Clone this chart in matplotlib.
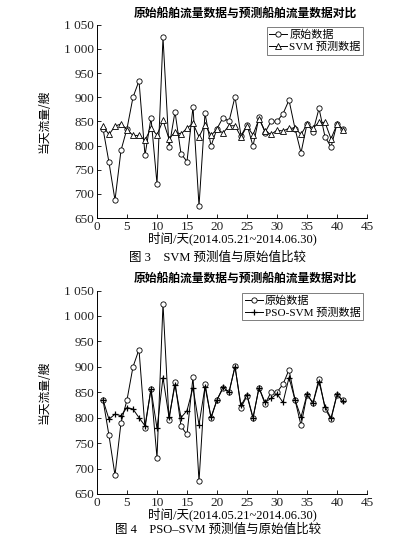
import matplotlib
matplotlib.use('Agg')
from matplotlib import pyplot as plt

# 41일 데이터 (2014.05.21 ~ 2014.06.30)
days = list(range(1, 42))
original = [835, 765, 687, 790, 835, 900, 934, 780, 857, 721, 1024, 796, 870, 783, 767, 880, 675,
            867, 799, 835, 858, 850, 901, 820, 843, 799, 859, 827, 850, 850, 866, 894, 835, 785,
            845, 829, 877, 818, 797, 845, 834]
svm_pred = [840, 823, 840, 845, 833, 821, 821, 811, 836, 822, 852, 814, 828, 824, 836, 846, 818,
            843, 821, 834, 826, 841, 841, 818, 840, 822, 855, 830, 823, 832, 830, 836, 836, 823,
            844, 836, 848, 848, 814, 844, 832]
pso_pred = [835, 797, 807, 804, 820, 817, 800, 784, 856, 779, 879, 801, 864, 800, 814, 859, 786,
            861, 801, 835, 860, 850, 900, 824, 845, 800, 859, 830, 838, 847, 830, 879, 835, 801,
            846, 829, 871, 822, 799, 846, 832]

x_ticks = [0, 5, 10, 15, 20, 25, 30, 35, 40, 45]
y_ticks = [650, 700, 750, 800, 850, 900, 950, 1000, 1050]
y_tick_labels = ['650', '700', '750', '800', '850', '900', '950', '1 000', '1 050']

title_text = '原始船舶流量数据与预测船舶流量数据对比'
xlabel_text = '时间/天(2014.05.21~2014.06.30)'
ylabel_text = '当天流量/艘'

serif_cjk = ['Liberation Serif', 'Noto Sans CJK SC']
cjk = ['Noto Sans CJK SC', 'DejaVu Sans']

fig = plt.figure(figsize=(4.11, 5.39), dpi=100)


def draw_panel(rect, pred, pred_marker, pred_label, caption, caption_y):
    ax = fig.add_axes(rect)
    ax.plot(days, original, color='black', linewidth=0.7, marker='o', markersize=3.8,
            markerfacecolor='white', markeredgecolor='black', markeredgewidth=0.6, label='原始数据')
    if pred_marker == '^':
        ax.plot(days, pred, color='black', linewidth=0.7, marker='^', markersize=4.2,
                markerfacecolor='white', markeredgecolor='black', markeredgewidth=0.6, label=pred_label)
    else:
        ax.plot(days, pred, color='black', linewidth=0.7, marker='+', markersize=5,
                markeredgewidth=0.9, label=pred_label)

    ax.set_xlim(0, 45)
    ax.set_ylim(650, 1050)
    ax.set_xticks(x_ticks)
    ax.set_yticks(y_ticks)
    ax.set_yticklabels(y_tick_labels)
    for lab in ax.get_xticklabels() + ax.get_yticklabels():
        lab.set_family('Liberation Serif')
        lab.set_fontsize(9.5)
        lab.set_color('#222222')
    ax.tick_params(direction='in', length=3, width=0.6, pad=2)
    ax.spines['top'].set_visible(False)
    ax.spines['right'].set_visible(False)
    for s in ['left', 'bottom']:
        ax.spines[s].set_linewidth(0.7)

    ax.set_title(title_text, family=cjk, fontsize=8.5, fontweight='bold', x=0.55, pad=6)
    ax.set_xlabel(xlabel_text, family=serif_cjk, fontsize=9, labelpad=-1)
    ax.set_ylabel(ylabel_text, family=cjk, fontsize=8.5, labelpad=10)

    leg = ax.legend(loc='upper right', bbox_to_anchor=(0.995, 1.0), prop={'family': serif_cjk, 'size': 8},
                    frameon=True, fancybox=False, edgecolor='#444444', handlelength=1.6,
                    handletextpad=0.2, borderpad=0.25, labelspacing=0.15, borderaxespad=0.2)
    leg.get_frame().set_linewidth(0.6)

    fig.text(0.53, caption_y, caption, family=serif_cjk, fontsize=9, ha='center', va='center')
    return ax


draw_panel([0.236, 0.5955, 0.657, 0.3585], svm_pred, '^', 'SVM 预测数据',
           '图 3    SVM 预测值与原始值比较', 0.522)
draw_panel([0.236, 0.0835, 0.657, 0.3775], pso_pred, '+', 'PSO-SVM 预测数据',
           '图 4    PSO–SVM 预测值与原始值比较', 0.017)

fig.savefig('out.png', dpi=100)
